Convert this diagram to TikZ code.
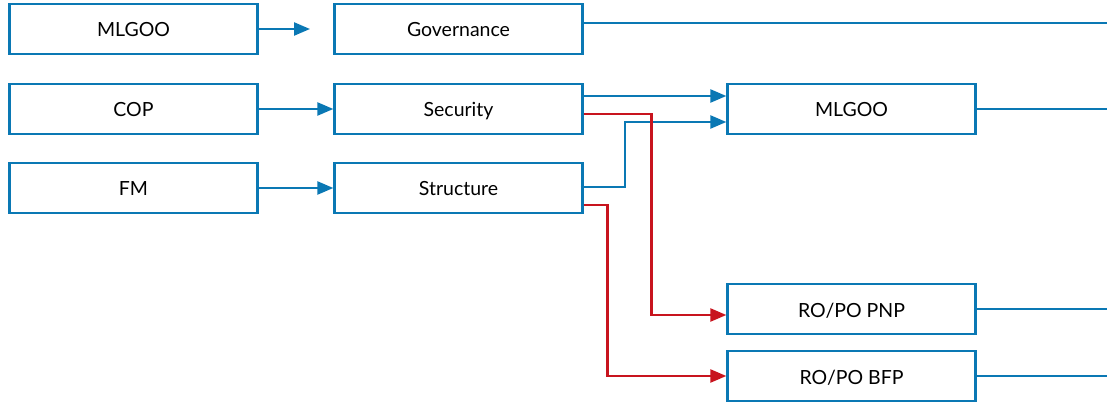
\documentclass[tikz,border=0pt]{standalone}
\usepackage{fontspec}
\setmainfont{Lato}
\usetikzlibrary{arrows.meta,calc}
\definecolor{flowblue}{HTML}{0A78B4}
\definecolor{flowred}{HTML}{C8141E}
\begin{document}
\begin{tikzpicture}[x=1pt,y=-1pt,
  box/.style={draw=flowblue, line width=2.3pt, minimum width=248pt, minimum height=49.5pt,
    inner sep=0pt, text height=16pt, text depth=0pt, font=\fontsize{19.5}{22}\selectfont},
  wire/.style={draw=flowblue, line width=2.3pt},
  link/.style={wire, -{Triangle[length=16pt,width=13pt]}},
  redlink/.style={draw=flowred, line width=2.3pt, -{Triangle[length=16pt,width=13pt]}}
]
\useasboundingbox (0,0) rectangle (1107,403);

% sources
\node[box] (srcA) at (133.5,29)  {MLGOO};
\node[box] (srcB) at (133.5,109) {COP};
\node[box] (srcC) at (133.5,188) {FM};

% areas
\node[box] (gov) at (458.5,29)  {Governance};
\node[box] (sec) at (458.5,109) {Security};
\node[box] (str) at (458.5,188) {Structure};

% owners
\node[box] (mlr) at (851.5,109) {MLGOO};
\node[box] (pnp) at (851.5,309) {RO/PO PNP};
\node[box] (bfp) at (851.5,376) {RO/PO BFP};

% free ends
\coordinate (govgap) at (310,29);
\coordinate (outA) at (1107,23);
\coordinate (outB) at (1107,109);
\coordinate (outC) at (1107,309);
\coordinate (outD) at (1107,376);

% left column into areas
\draw[link] (srcA.east) -- (govgap);
\draw[link] (srcB.east) -- (sec.west);
\draw[link] (srcC.east) -- (str.west);

% areas into owners
\draw[link] ($(sec.east)+(0,-13)$) -- ($(mlr.west)+(0,-13)$);
\draw[link] ($(str.east)+(-3,-1)$) -- ++(44,0) |- ($(mlr.west)+(0,13)$);
\draw[redlink] ($(sec.east)+(0,5)$) -| ($(pnp.west)+(-75,6)$) -- ($(pnp.west)+(0,6)$);
\draw[redlink] ($(str.east)+(0,17)$) -| ($(bfp.west)+(-119,0)$) -- (bfp.west);

% outgoing lines
\draw[wire] ($(gov.east)+(0,-6)$) -- (outA);
\draw[wire] (mlr.east) -- (outB);
\draw[wire] (pnp.east) -- (outC);
\draw[wire] (bfp.east) -- (outD);
\end{tikzpicture}
\end{document}
